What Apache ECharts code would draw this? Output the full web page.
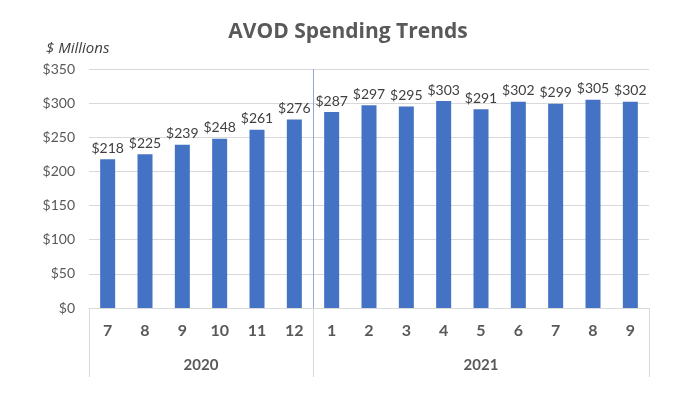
<!DOCTYPE html>
<html>
<head>
<meta charset="utf-8">
<script src="https://cdn.jsdelivr.net/npm/echarts@6/dist/echarts.min.js"></script>
<style>
  html, body { margin: 0; padding: 0; background: #fff; }
  #AvodChart { width: 696px; height: 396px; }
</style>
</head>
<body>
<div id="AvodChart"></div>
<script>
// data
var months = ['7', '8', '9', '10', '11', '12', '1', '2', '3', '4', '5', '6', '7', '8', '9'];
var spending = [218, 225, 239, 248, 261, 276, 287, 297, 295, 303, 291, 302, 299, 305, 302];
var years = ['2020', '2021'];
var yearStarts = [0, 6, 15];   // month index where each year group begins, plus end

var yearCenters = [];
for (var i = 0; i < years.length; i++) {
    yearCenters.push((yearStarts[i] + yearStarts[i + 1]) / 2);
}

var AvodChart = echarts.init(document.getElementById('AvodChart'));
var optionAvod = {
    animation: false,
    textStyle: { fontFamily: 'Lato' },
    title: [
        {
            text: 'AVOD Spending Trends',
            left: 'center',
            top: 17,
            textStyle: {
                color: '#595959',
                fontSize: 21,
                fontWeight: 'bold',
                fontFamily: 'Open Sans'
            }
        },
        {
            text: '$ Millions',
            left: 41,
            top: 36,
            textStyle: {
                color: '#404040',
                fontSize: 15,
                fontStyle: 'italic',
                fontWeight: 'normal',
                fontFamily: 'Open Sans'
            }
        }
    ],
    grid: { left: 89, right: 47, top: 69, bottom: 88 },
    xAxis: [
        {
            type: 'category',
            data: months,
            axisLine: { lineStyle: { color: '#d9d9d9' } },
            axisTick: { show: false },
            axisLabel: {
                color: '#595959',
                fontSize: 16,
                fontWeight: 'bold',
                margin: 15
            }
        },
        {
            type: 'value',
            min: 0,
            max: months.length,
            position: 'bottom',
            axisLine: { show: false },
            splitLine: { show: false },
            axisTick: {
                show: true,
                customValues: yearStarts,
                length: 69,
                lineStyle: { color: '#d9d9d9' }
            },
            axisLabel: {
                customValues: yearCenters,
                color: '#595959',
                fontSize: 15,
                fontWeight: 'bold',
                margin: 50,
                formatter: function (v) {
                    var idx = yearCenters.indexOf(v);
                    return idx >= 0 ? years[idx] : '';
                }
            }
        }
    ],
    yAxis: {
        type: 'value',
        min: 0,
        max: 350,
        interval: 50,
        axisLine: { show: false },
        axisTick: { show: false },
        splitLine: { lineStyle: { color: '#d9d9d9' } },
        axisLabel: {
            color: '#595959',
            fontSize: 14,
            margin: 14,
            formatter: '${value}'
        }
    },
    series: [
        {
            name: 'AVOD',
            type: 'bar',
            xAxisIndex: 0,
            barWidth: 15,
            itemStyle: { color: '#4472c4' },
            label: {
                show: true,
                position: 'top',
                distance: 4,
                color: '#404040',
                fontSize: 14,
                formatter: function (p) { return '$' + p.value; }
            },
            data: spending
        },
        {
            name: 'divider',
            type: 'line',
            xAxisIndex: 1,
            data: [],
            markLine: {
                silent: true,
                symbol: 'none',
                label: { show: false },
                lineStyle: { color: '#8eaadb', type: 'solid', width: 1 },
                data: [{ xAxis: yearStarts[1] }]
            }
        }
    ]
};
AvodChart.setOption(optionAvod);
</script>
</body>
</html>
